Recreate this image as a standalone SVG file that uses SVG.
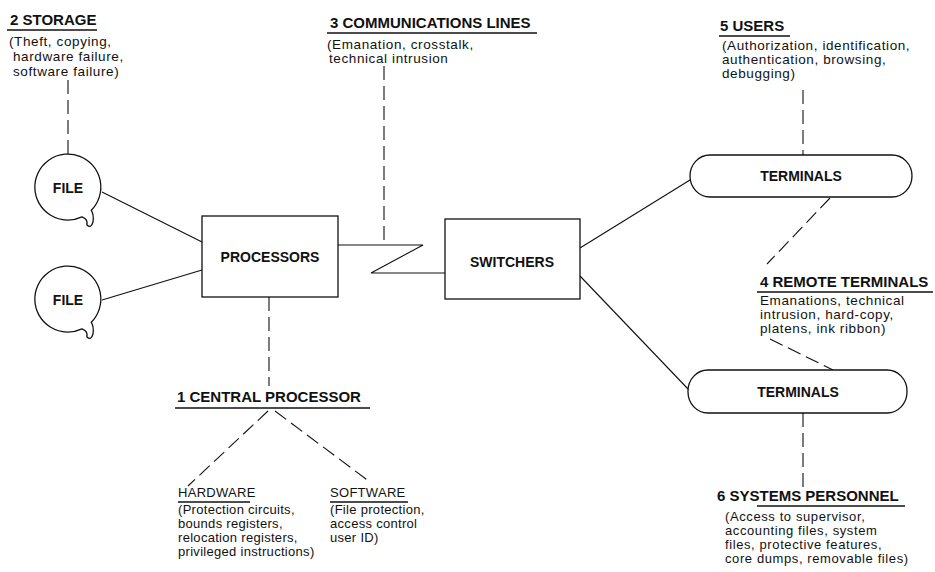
<svg xmlns="http://www.w3.org/2000/svg" width="935" height="572" viewBox="0 0 935 572">
  <style>
    text { font-family: "Liberation Sans", Arial, sans-serif; fill: #111; }
    .title { font-size: 15px; font-weight: bold; }
    .body { font-size: 13.5px; letter-spacing: 0.6px; }
    .small { font-size: 13px; letter-spacing: 0.6px; }
    .sub { font-size: 13px; letter-spacing: 0.3px; }
    .label { font-size: 14px; font-weight: bold; text-anchor: middle; }
    .solid { fill: none; stroke: #111; stroke-width: 1.1; }
    .dash { fill: none; stroke: #111; stroke-width: 1.1; stroke-dasharray: 14 6; }
    .rule { stroke: #111; stroke-width: 1.5; }
    .shape { fill: #fff; stroke: #111; stroke-width: 1.3; }
  </style>
  <rect width="935" height="572" fill="#fff"/>

  <!-- connectors -->
  <g id="connectors">
    <line class="solid" x1="102" y1="192" x2="202" y2="242"/>
    <line class="solid" x1="102" y1="300" x2="202" y2="270"/>
    <polyline class="solid" points="338,245 423,245 371,273 445,273"/>
    <line class="solid" x1="580" y1="248" x2="690" y2="180"/>
    <line class="solid" x1="580" y1="276" x2="689" y2="390"/>
    <line class="dash" x1="68" y1="80" x2="68" y2="154"/>
    <line class="dash" x1="384" y1="66" x2="384" y2="245"/>
    <line class="dash" x1="803" y1="90" x2="803" y2="155"/>
    <line class="dash" x1="830" y1="198" x2="767" y2="264"/>
    <line class="dash" x1="770" y1="339" x2="833" y2="370"/>
    <line class="dash" x1="803" y1="413" x2="803" y2="493"/>
    <line class="dash" x1="269" y1="297" x2="269" y2="386"/>
    <line class="dash" x1="268" y1="411" x2="188" y2="486"/>
    <line class="dash" x1="275" y1="411" x2="370" y2="482"/>
  </g>

  <!-- storage files -->
  <g id="file1">
    <path class="shape" d="M91.3,210.3 A33,33 0 1 0 82,216.9 Q88,219 87,225 Q91,229 93,222 Q94,215 91.3,210.3 Z"/>
    <text class="label" x="68" y="193">FILE</text>
  </g>
  <g id="file2">
    <path class="shape" d="M91.3,322.3 A33,33 0 1 0 82,328.9 Q88,331 87,337 Q91,341 93,334 Q94,327 91.3,322.3 Z"/>
    <text class="label" x="68" y="305">FILE</text>
  </g>

  <g id="processors">
    <rect class="shape" x="202" y="216" width="136" height="81"/>
    <text class="label" x="270" y="262">PROCESSORS</text>
  </g>

  <g id="switchers">
    <rect class="shape" x="445" y="219" width="135" height="80"/>
    <text class="label" x="512" y="267">SWITCHERS</text>
  </g>

  <g id="terminals1">
    <rect class="shape" x="690" y="155" width="222" height="42" rx="20" ry="21"/>
    <text class="label" x="801" y="181">TERMINALS</text>
  </g>

  <g id="terminals2">
    <rect class="shape" x="688" y="370" width="219" height="43" rx="20" ry="21"/>
    <text class="label" x="798" y="397">TERMINALS</text>
  </g>

  <!-- threat annotations -->
  <g id="storage">
    <text class="title" x="10" y="25">2  STORAGE</text>
    <line class="rule" x1="7" y1="30" x2="97" y2="30"/>
    <text class="body" x="9" y="46">(Theft, copying,</text>
    <text class="body" x="13" y="61">hardware failure,</text>
    <text class="body" x="13" y="76">software failure)</text>
  </g>

  <g id="communications-lines">
    <text class="title" x="330" y="28">3  COMMUNICATIONS LINES</text>
    <line class="rule" x1="327" y1="33" x2="537" y2="33"/>
    <text class="body" x="327" y="49">(Emanation, crosstalk,</text>
    <text class="body" x="329" y="63">technical intrusion</text>
  </g>

  <g id="users">
    <text class="title" x="720" y="31">5  USERS</text>
    <line class="rule" x1="719" y1="36" x2="790" y2="36"/>
    <text class="body" x="722" y="50">(Authorization, identification,</text>
    <text class="body" x="722" y="64">authentication, browsing,</text>
    <text class="body" x="722" y="78">debugging)</text>
  </g>

  <g id="remote-terminals">
    <text class="title" x="760" y="287">4  REMOTE TERMINALS</text>
    <line class="rule" x1="757" y1="292" x2="933" y2="292"/>
    <text class="body" x="760" y="305">Emanations, technical</text>
    <text class="body" x="760" y="319">intrusion, hard-copy,</text>
    <text class="body" x="760" y="333">platens, ink ribbon)</text>
  </g>

  <g id="systems-personnel">
    <text class="title" x="717" y="501">6  SYSTEMS PERSONNEL</text>
    <line class="rule" x1="757" y1="506" x2="905" y2="506"/>
    <text class="small" x="725" y="521">(Access to supervisor,</text>
    <text class="small" x="725" y="535">accounting files, system</text>
    <text class="small" x="725" y="549">files, protective features,</text>
    <text class="small" x="725" y="563">core dumps, removable files)</text>
  </g>

  <g id="central-processor">
    <text class="title" x="177" y="402">1  CENTRAL PROCESSOR</text>
    <line class="rule" x1="175" y1="408" x2="370" y2="408"/>
  </g>

  <g id="hardware">
    <text class="sub" x="178" y="497">HARDWARE</text>
    <line class="rule" x1="178" y1="502" x2="250" y2="502"/>
    <text class="sub" x="178" y="514">(Protection circuits,</text>
    <text class="sub" x="178" y="528">bounds registers,</text>
    <text class="sub" x="178" y="542">relocation registers,</text>
    <text class="sub" x="178" y="556">privileged instructions)</text>
  </g>

  <g id="software">
    <text class="sub" x="330" y="497">SOFTWARE</text>
    <line class="rule" x1="330" y1="502" x2="408" y2="502"/>
    <text class="sub" x="330" y="514">(File protection,</text>
    <text class="sub" x="330" y="528">access control</text>
    <text class="sub" x="330" y="542">user ID)</text>
  </g>
</svg>
